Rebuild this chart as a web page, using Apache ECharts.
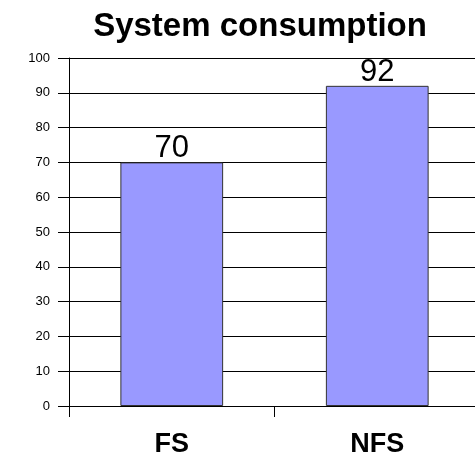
<!DOCTYPE html>
<html>
<head>
<meta charset="utf-8">
<script src="https://cdn.jsdelivr.net/npm/echarts@6/dist/echarts.min.js"></script>
<style>
html,body{margin:0;padding:0;background:#fff;}
#c{width:475px;height:457px;}
</style>
</head>
<body>
<div id="c"></div>
<script>
var titleText = "System consumption";
var categories = ["FS", "NFS"];
var values = [70, 92];
var yMin = 0, yMax = 100, yInterval = 10;

var chart = echarts.init(document.getElementById('c'), null, {renderer: 'canvas'});
chart.setOption({
  animation: false,
  backgroundColor: '#fff',
  title: {
    text: titleText,
    left: 255,
    textAlign: 'center',
    top: 5,
    itemGap: 0,
    textStyle: {fontFamily: 'Liberation Sans', fontWeight: 'bold', fontSize: 33, color: '#000'}
  },
  grid: {left: 69, top: 58, bottom: 51, width: 411, containLabel: false, outerBoundsMode: 'none'},
  xAxis: {
    type: 'category',
    data: categories,
    boundaryGap: true,
    axisLine: {show: true, lineStyle: {color: '#000', width: 1}},
    axisTick: {show: true, length: 11, alignWithLabel: false, lineStyle: {color: '#000'}},
    axisLabel: {margin: 25, fontFamily: 'Liberation Sans', fontWeight: 'bold', fontSize: 27, color: '#000'},
    splitLine: {show: false}
  },
  yAxis: {
    type: 'value',
    min: yMin, max: yMax, interval: yInterval,
    axisLine: {show: true, lineStyle: {color: '#000', width: 1}},
    axisTick: {show: true, inside: false, length: 11, lineStyle: {color: '#000', width: 1}},
    axisLabel: {margin: 19, fontFamily: 'Liberation Sans', fontSize: 13, color: '#000'},
    splitLine: {show: true, lineStyle: {color: '#000', width: 1}}
  },
  series: [{
    type: 'bar',
    data: values,
    barWidth: '50%',
    itemStyle: {color: '#9999ff', borderColor: '#333', borderWidth: 1},
    label: {show: true, position: 'top', distance: -2, fontFamily: 'Liberation Sans', fontSize: 31, color: '#000'}
  }]
});
</script>
</body>
</html>
